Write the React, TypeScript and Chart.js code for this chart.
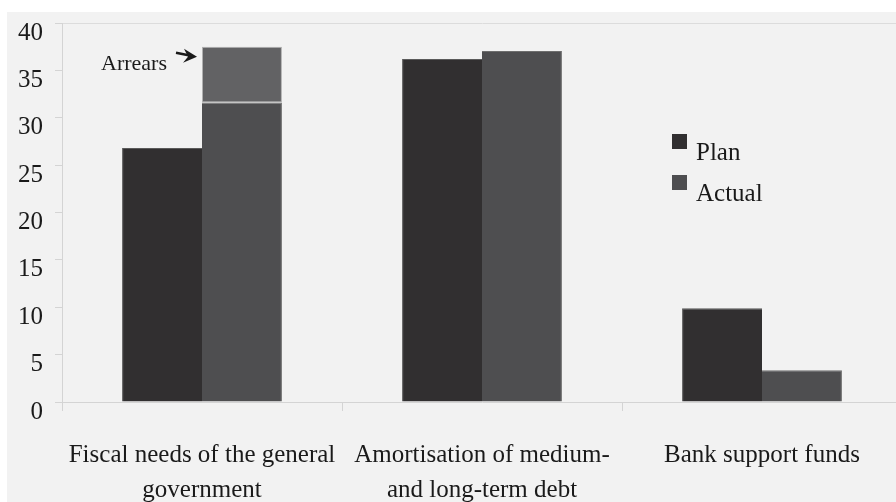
import React, { useEffect, useRef } from "react";
import { Chart, registerables } from "chart.js";

Chart.register(...registerables);

const categories: string[][] = [
  ["Fiscal needs of the general", "government"],
  ["Amortisation of medium-", "and long-term debt"],
  ["Bank support funds"],
];
const planValues = [26.8, 36.2, 9.9];
const actualValues = [31.6, 37.05, 3.35];
const arrearsValues = [5.9, 0, 0];
const yTicks = [0, 5, 10, 15, 20, 25, 30, 35, 40];

const FONT = "'Liberation Serif', 'Times New Roman', serif";
const PLAN_COLOR = "#312f30";
const ACTUAL_COLOR = "#4e4e50";
const ARREARS_COLOR = "#626264";

const legendPlugin = {
  id: "customLegend",
  afterDraw(chart: any) {
    const { ctx, chartArea } = chart;
    ctx.save();
    ctx.font = `25px ${FONT}`;
    ctx.textBaseline = "middle";
    ctx.textAlign = "left";
    const items = [
      { label: "Plan", color: PLAN_COLOR, dy: 111 },
      { label: "Actual", color: ACTUAL_COLOR, dy: 152 },
    ];
    for (const it of items) {
      ctx.fillStyle = it.color;
      ctx.fillRect(chartArea.left + 610, chartArea.top + it.dy, 15, 15);
      ctx.fillStyle = "#1a1a1a";
      ctx.fillText(it.label, chartArea.left + 634, chartArea.top + it.dy + 19);
    }
    // Arrears annotation
    const bar: any = chart.getDatasetMeta(2).data[0];
    if (bar) {
      const left = bar.x - bar.width / 2;
      const top = bar.y;
      ctx.font = `22px ${FONT}`;
      ctx.textAlign = "right";
      ctx.textBaseline = "alphabetic";
      ctx.fillStyle = "#1a1a1a";
      ctx.fillText("Arrears", left - 35, top + 23);
      // arrow
      const tx = left - 5, ty = top + 10;
      const sx = left - 26, sy = top + 6;
      ctx.strokeStyle = "#1a1a1a";
      ctx.lineWidth = 2.5;
      ctx.beginPath();
      ctx.moveTo(sx, sy);
      ctx.lineTo(tx - 6, ty - 1);
      ctx.stroke();
      ctx.beginPath();
      ctx.moveTo(tx, ty);
      ctx.lineTo(tx - 13, ty - 8);
      ctx.lineTo(tx - 9, ty);
      ctx.lineTo(tx - 14, ty + 6);
      ctx.closePath();
      ctx.fillStyle = "#1a1a1a";
      ctx.fill();
    }
    ctx.restore();
  },
};

export default function App() {
  const canvasRef = useRef<HTMLCanvasElement>(null);

  useEffect(() => {
    if (!canvasRef.current) return;
    const chart = new Chart(canvasRef.current, {
      type: "bar",
      data: {
        labels: categories,
        datasets: [
          {
            label: "Plan",
            data: planValues,
            backgroundColor: PLAN_COLOR,
            borderColor: "#5a5a5a",
            borderWidth: { top: 1, left: 1, right: 0, bottom: 0 },
            borderSkipped: false,
            stack: "plan",
            barPercentage: 1,
            categoryPercentage: 0.571,
          },
          {
            label: "Actual",
            data: actualValues,
            backgroundColor: ACTUAL_COLOR,
            borderColor: "#6e6e6e",
            borderWidth: { top: 1, left: 0, right: 1, bottom: 0 },
            borderSkipped: false,
            stack: "actual",
            barPercentage: 1,
            categoryPercentage: 0.571,
          },
          {
            label: "Arrears",
            data: arrearsValues,
            backgroundColor: ARREARS_COLOR,
            borderColor: "#b0b0b0",
            borderWidth: 1,
            borderSkipped: false,
            stack: "actual",
            barPercentage: 1,
            categoryPercentage: 0.571,
          },
        ],
      },
      options: {
        responsive: true,
        maintainAspectRatio: false,
        animation: false,
        layout: { padding: { top: 0, right: 5, left: 0, bottom: 0 } },
        plugins: {
          legend: { display: false },
          tooltip: { enabled: false },
        },
        scales: {
          x: {
            grid: {
              offset: true,
              drawOnChartArea: false,
              drawTicks: true,
              tickLength: 9,
              color: "#d4d4d4",
            },
            border: { color: "#d4d4d4" },
            ticks: {
              font: { family: FONT, size: 25, lineHeight: 1.4 },
              color: "#1a1a1a",
              padding: 27,
              maxRotation: 0,
              autoSkip: false,
            },
          },
          y: {
            stacked: true,
            min: 0,
            max: 40,
            afterBuildTicks: (axis: any) => {
              axis.ticks = yTicks.map((v) => ({ value: v }));
            },
            grid: {
              drawOnChartArea: true,
              drawTicks: true,
              tickLength: 7,
              tickColor: "#d4d4d4",
              color: (c: any) => (c.tick && c.tick.value === 40 ? "#dcdcdc" : "rgba(0,0,0,0)"),
            },
            border: { color: "#d4d4d4" },
            ticks: {
              font: { family: FONT, size: 25 },
              color: "#1a1a1a",
              padding: 12,
              labelOffset: 10,
            },
          },
        },
      },
      plugins: [legendPlugin],
    });
    return () => chart.destroy();
  }, []);

  return (
    <div style={{ position: "fixed", inset: 0, overflow: "hidden", background: "#ffffff" }}>
      <div
        style={{
          position: "absolute",
          left: 7,
          top: 12,
          right: 0,
          bottom: 0,
          background: "#f2f2f2",
        }}
      />
      <div
        style={{
          position: "absolute",
          left: 6,
          top: -4,
          width: 901,
          height: 539,
        }}
      >
        <canvas ref={canvasRef} />
      </div>
    </div>
  );
}
